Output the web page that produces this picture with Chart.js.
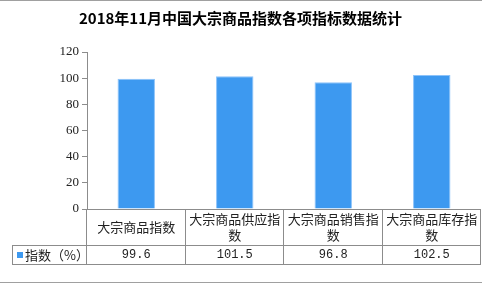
<!DOCTYPE html>
<html>
<head>
<meta charset="utf-8">
<script src="https://cdn.jsdelivr.net/npm/chart.js@4"></script>
<style>
  body { margin: 0; background: #fff; }
  canvas { display: block; }
</style>
</head>
<body>
<canvas id="chart" width="482" height="284"></canvas>
<script>
var titleText = "2018年11月中国大宗商品指数各项指标数据统计";
var categories = ["大宗商品指数", "大宗商品供应指数", "大宗商品销售指数", "大宗商品库存指数"];
var categoryLines = [["大宗商品指数"], ["大宗商品供应指", "数"], ["大宗商品销售指", "数"], ["大宗商品库存指", "数"]];
var seriesName = "指数（%）";
var values = [99.6, 101.5, 96.8, 102.5];
var valueLabels = ["99.6", "101.5", "96.8", "102.5"];
var yTicks = [0, 20, 40, 60, 80, 100, 120];

var barColor = "rgb(61, 153, 240)";
var lineColor = "#8c8c8c";
var cjkFont = "'Noto Sans CJK SC', sans-serif";

// data table under the x axis, drawn from the x scale
var tablePlugin = {
    id: "dataTable",
    afterDraw: function (chart) {
        var ctx = chart.ctx;
        var x = chart.scales.x;
        var top = chart.chartArea.bottom;
        var mid = top + 36;
        var bot = mid + 19;
        var legendLeft = 12;
        var half = (x.right - x.left) / categories.length / 2;

        ctx.save();
        ctx.strokeStyle = lineColor;
        ctx.lineWidth = 1;
        ctx.beginPath();
        ctx.moveTo(x.left, top + 0.5); ctx.lineTo(x.right, top + 0.5);
        ctx.moveTo(legendLeft, mid + 0.5); ctx.lineTo(x.right, mid + 0.5);
        ctx.moveTo(legendLeft, bot + 0.5); ctx.lineTo(x.right, bot + 0.5);
        ctx.moveTo(legendLeft + 0.5, mid); ctx.lineTo(legendLeft + 0.5, bot);
        ctx.moveTo(Math.round(x.left) - 0.5, top); ctx.lineTo(Math.round(x.left) - 0.5, bot);
        for (var i = 0; i < categories.length; i++) {
            var edge = Math.round(x.getPixelForValue(i) + half) - 0.5;
            ctx.moveTo(edge, top); ctx.lineTo(edge, bot);
        }
        ctx.stroke();

        ctx.fillStyle = "#222";
        ctx.textAlign = "center";
        ctx.textBaseline = "middle";
        for (var j = 0; j < categories.length; j++) {
            var cx = x.getPixelForValue(j);
            var lines = categoryLines[j];
            ctx.font = "13px " + cjkFont;
            if (lines.length === 1) {
                ctx.fillText(lines[0], cx, top + 18);
            } else {
                ctx.fillText(lines[0], cx, top + 10);
                ctx.fillText(lines[1], cx, top + 26);
            }
            ctx.font = "12px 'Liberation Mono', monospace";
            ctx.fillText(valueLabels[j], cx, mid + 10);
        }

        // legend cell
        ctx.fillStyle = barColor;
        ctx.fillRect(legendLeft + 5, mid + 7, 6, 6);
        ctx.fillStyle = "#222";
        ctx.textAlign = "left";
        ctx.font = "13px " + cjkFont;
        ctx.fillText(seriesName, legendLeft + 13, mid + 10);
        ctx.restore();
    }
};

new Chart(document.getElementById("chart"), {
    type: "bar",
    data: {
        labels: categories,
        datasets: [
            {
                label: seriesName,
                data: values,
                backgroundColor: barColor,
                borderColor: "rgb(140, 195, 250)",
                borderWidth: 1,
                categoryPercentage: 1,
                barPercentage: 0.38
            }
        ]
    },
    options: {
        responsive: false,
        animation: false,
        layout: {
            padding: { left: 0, right: 1, top: 0, bottom: 67 }
        },
        plugins: {
            legend: { display: false },
            tooltip: { enabled: false },
            title: {
                display: true,
                text: titleText,
                color: "#000",
                font: { family: cjkFont, size: 15, weight: "bold" },
                padding: { top: 9, bottom: 25 }
            }
        },
        scales: {
            x: {
                display: true,
                ticks: { display: false },
                grid: { display: false },
                border: { display: false }
            },
            y: {
                min: 0,
                max: 120,
                afterFit: function (scale) { scale.width = 87; },
                afterBuildTicks: function (scale) {
                    scale.ticks = yTicks.map(function (v) { return { value: v }; });
                },
                ticks: {
                    color: "#222",
                    padding: 3,
                    font: { family: "'Liberation Serif', serif", size: 13 }
                },
                grid: {
                    drawOnChartArea: false,
                    drawTicks: true,
                    tickLength: 5,
                    color: lineColor
                },
                border: { display: true, color: lineColor }
            }
        }
    },
    plugins: [tablePlugin, {
        id: "frame",
        afterDraw: function (chart) {
            var ctx = chart.ctx;
            ctx.save();
            ctx.strokeStyle = "#a0a0a0";
            ctx.beginPath();
            ctx.moveTo(0, 0.5); ctx.lineTo(482, 0.5);
            ctx.moveTo(0, 282.5); ctx.lineTo(482, 282.5);
            ctx.stroke();
            ctx.restore();
        }
    }]
});
</script>
</body>
</html>
